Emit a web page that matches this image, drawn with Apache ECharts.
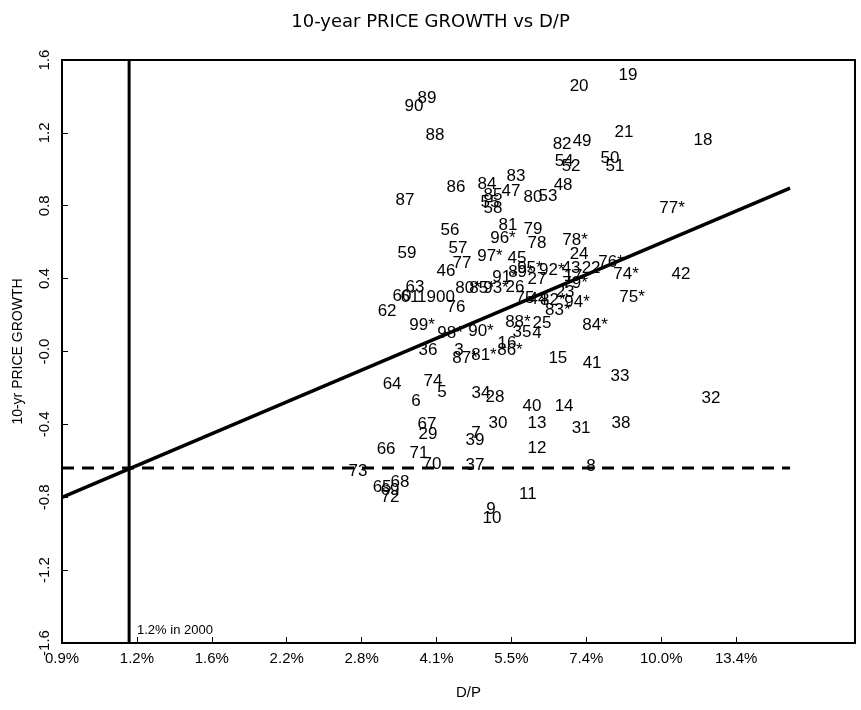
<!DOCTYPE html>
<html><head><meta charset="utf-8">
<script src="https://cdn.jsdelivr.net/npm/echarts@6/dist/echarts.min.js"></script>
<style>html,body{margin:0;padding:0;background:#fff}#c{width:861px;height:710px}</style>
</head><body><div id="c"></div>
<script>
// x values: natural log of D/P ; y values: 10-yr price growth (log)
const labels = ['1900','3','4','5','6','7','8','9','10','11','12','13','14','15','16','17','18','19','20','21','22','23','24','25','26','27','28','29','30','31','32','33','34','35','36','37','38','39','40','41','42','43','44','45','46','47','48','49','50','51','52','53','54','55','56','57','58','59','60','61','62','63','64','65','66','67','68','69','70','71','72','73','74','75','76','77','78','79','80','81','82','83','84','85','86','87','88','89','90',
'74*','75*','76*','77*','78*','79*','80*','81*','82*','83*','84*','85*','86*','87*','88*','89*','90*','91*','92*','93*','94*','95*','96*','97*','98*','99*'];
const logDP = [-3.202,-3.110,-2.798,-3.178,-3.282,-3.042,-2.581,-2.982,-2.978,-2.834,-2.798,-2.798,-2.689,-2.714,-2.918,-2.653,-2.133,-2.433,-2.629,-2.449,-2.581,-2.685,-2.629,-2.778,-2.886,-2.798,-2.966,-3.234,-2.954,-2.621,-2.101,-2.465,-3.022,-2.858,-3.234,-3.046,-2.461,-3.046,-2.818,-2.577,-2.221,-2.661,-2.794,-2.878,-3.162,-2.902,-2.693,-2.617,-2.505,-2.485,-2.661,-2.754,-2.689,-2.986,-3.146,-3.114,-2.974,-3.318,-3.338,-3.306,-3.398,-3.286,-3.378,-3.418,-3.402,-3.238,-3.346,-3.386,-3.218,-3.270,-3.386,-3.515,-3.214,-2.846,-3.122,-3.098,-2.798,-2.814,-2.814,-2.914,-2.697,-2.882,-2.998,-2.974,-3.122,-3.326,-3.206,-3.238,-3.290,
-2.441,-2.417,-2.501,-2.257,-2.645,-2.645,-3.074,-3.010,-2.734,-2.714,-2.565,-3.018,-2.906,-3.086,-2.874,-2.862,-3.022,-2.926,-2.738,-2.962,-2.637,-2.826,-2.934,-2.986,-3.146,-3.258];
const growth = [0.299,0.008,0.102,-0.222,-0.272,-0.447,-0.628,-0.865,-0.914,-0.782,-0.530,-0.392,-0.299,-0.036,0.047,0.414,1.161,1.518,1.457,1.205,0.458,0.327,0.535,0.156,0.354,0.398,-0.250,-0.453,-0.392,-0.420,-0.255,-0.134,-0.228,0.107,0.008,-0.623,-0.392,-0.486,-0.299,-0.063,0.425,0.458,0.288,0.513,0.442,0.881,0.914,1.155,1.062,1.018,1.018,0.854,1.046,0.821,0.667,0.568,0.788,0.541,0.305,0.299,0.222,0.354,-0.178,-0.744,-0.535,-0.398,-0.716,-0.760,-0.618,-0.557,-0.799,-0.656,-0.162,0.294,0.244,0.486,0.596,0.672,0.848,0.694,1.139,0.963,0.919,0.859,0.903,0.832,1.188,1.391,1.348,
0.425,0.299,0.491,0.788,0.612,0.376,0.349,-0.019,0.283,0.228,0.145,0.349,0.008,-0.036,0.162,0.436,0.113,0.409,0.447,0.349,0.272,0.458,0.623,0.524,0.102,0.145];
const xTickLabels = ['0.9%','1.2%','1.6%','2.2%','2.8%','4.1%','5.5%','7.4%','10.0%','13.4%'];
const xTickLogs = [-4.7,-4.4,-4.1,-3.8,-3.5,-3.2,-2.9,-2.6,-2.3,-2.0];
const regIntercept = 1.935, regSlope = 0.582;   // growth = a + b*ln(D/P)
const lineStart = -4.7, lineEnd = -1.784;
const meanGrowthLine = -0.64;
const dp2000 = 0.0119;

const FONT = "'Liberation Sans',Arial,sans-serif";
const pts = labels.map((l,i)=>({name:l, value:[logDP[i], growth[i]]}));
const chart = echarts.init(document.getElementById('c'), null, {renderer:'canvas'});
const xDP = Math.log(dp2000);
chart.setOption({
  animation:false,
  backgroundColor:'#fff',
  title:{text:'10-year PRICE GROWTH vs D/P', left:'center', top:8,
    textStyle:{fontFamily:"'DejaVu Sans',sans-serif", fontSize:18, fontWeight:'normal', color:'#000'}},
  grid:{left:62, right:6, top:60, bottom:67, show:true, borderColor:'#000', borderWidth:2},
  xAxis:{type:'value', min:-4.7, max:-1.524, name:'D/P', nameLocation:'middle', nameGap:42,
    nameTextStyle:{fontFamily:FONT, fontSize:15, color:'#000', padding:[0,0,0,20]},
    axisLine:{show:true, onZero:false, lineStyle:{color:'#000', width:2}},
    axisTick:{show:true, inside:true, length:6, customValues:xTickLogs, lineStyle:{color:'#000'}},
    axisLabel:{customValues:xTickLogs, color:'#000', fontFamily:FONT, fontSize:15, margin:8,
      formatter:v=>{const k=xTickLogs.findIndex(t=>Math.abs(t-v)<1e-6);return k>=0?xTickLabels[k]:'';}},
    splitLine:{show:false}},
  yAxis:{type:'value', min:-1.6, max:1.6, interval:0.4, name:'10-yr PRICE GROWTH', nameLocation:'middle', nameGap:37,
    nameTextStyle:{fontFamily:FONT, fontSize:14, color:'#000'},
    axisLine:{show:true, onZero:false, lineStyle:{color:'#000', width:2}},
    axisTick:{show:true, inside:true, length:6, lineStyle:{color:'#000'}},
    axisLabel:{rotate:90, color:'#000', fontFamily:FONT, fontSize:15, margin:10,
      formatter:v=>Math.abs(v)<1e-9?'-0.0':v.toFixed(1)},
    splitLine:{show:false}},
  series:[
    {type:'line', data:[[lineStart, regIntercept+regSlope*lineStart],[lineEnd, regIntercept+regSlope*lineEnd]],
      symbol:'none', lineStyle:{color:'#000', width:3.5}, z:3},
    {type:'line', data:[[lineStart, meanGrowthLine],[lineEnd, meanGrowthLine]],
      symbol:'none', lineStyle:{color:'#000', width:3, type:[12,8]}, z:3},
    {type:'line', data:[[xDP,-1.6],[xDP,1.6]], symbol:'none', lineStyle:{color:'#000', width:3}, z:3},
    {type:'scatter', data:pts, symbol:'circle', symbolSize:1, itemStyle:{color:'rgba(0,0,0,0)', opacity:1},
      label:{show:true, position:'inside', formatter:p=>p.name, color:'#000', fontFamily:FONT, fontSize:17}, z:4}
  ],
  graphic:[{type:'text', left:137, top:624, style:{text:'1.2% in 2000', fill:'#000', font:"13px "+FONT}}]
});
</script></body></html>
